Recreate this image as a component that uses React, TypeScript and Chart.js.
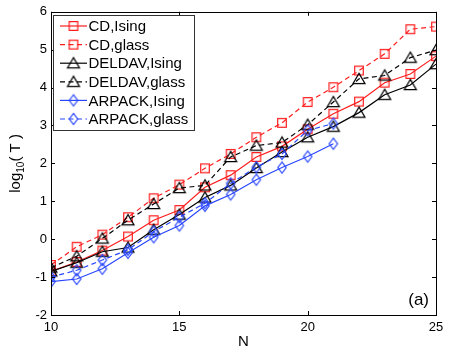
import React, { useEffect, useRef } from "react";
import { Chart, registerables } from "chart.js";

Chart.register(...registerables);

// ---------- data ----------
const N_FULL = [10, 11, 12, 13, 14, 15, 16, 17, 18, 19, 20, 21, 22, 23, 24, 25];
const N_ARPACK = [10, 11, 12, 13, 14, 15, 16, 17, 18, 19, 20, 21];

const CD_ISING = [-0.85, -0.6, -0.3, 0.07, 0.5, 0.77, 1.37, 1.69, 2.17, 2.45, 2.9, 3.31, 3.63, 4.13, 4.36, 4.83];
const CD_GLASS = [-0.68, -0.2, 0.12, 0.58, 1.08, 1.44, 1.87, 2.25, 2.69, 3.07, 3.62, 4.01, 4.45, 4.89, 5.54, 5.61];
const DELDAV_ISING = [-0.85, -0.62, -0.33, -0.22, 0.25, 0.65, 1.1, 1.42, 1.88, 2.3, 2.69, 2.97, 3.34, 3.81, 4.07, 4.62];
const DELDAV_GLASS = [-0.75, -0.45, 0.02, 0.5, 0.93, 1.35, 1.42, 2.17, 2.47, 2.55, 3.02, 3.62, 4.23, 4.32, 4.79, 4.99];
const ARPACK_ISING = [-1.12, -1.05, -0.78, -0.36, 0.05, 0.36, 0.88, 1.18, 1.57, 1.89, 2.18, 2.52];
const ARPACK_GLASS = [-1.0, -0.82, -0.55, -0.28, 0.2, 0.58, 0.95, 1.47, 1.9, 2.25, 2.87, 3.05];

const SERIES_LABELS = ["CD,Ising", "CD,glass", "DELDAV,Ising", "DELDAV,glass", "ARPACK,Ising", "ARPACK,glass"];
const X_TICKS = [10, 15, 20, 25];
const Y_TICKS = [-2, -1, 0, 1, 2, 3, 4, 5, 6];

// ---------- styles ----------
const RED = "rgb(255,30,30)";
const BLACK = "rgb(0,0,0)";
const BLUE = "rgb(40,70,255)";
const FONT = "'Liberation Sans', Arial, Helvetica, sans-serif";
const DASH = [5, 3.5];

type Kind = "square" | "triangle" | "diamond";

function makeMarker(kind: Kind, color: string): HTMLCanvasElement {
  const c = document.createElement("canvas");
  c.width = 16;
  c.height = 16;
  const g = c.getContext("2d")!;
  g.strokeStyle = color;
  g.lineWidth = 1.2;
  const cx = 8, cy = 8;
  g.beginPath();
  if (kind === "square") {
    g.rect(cx - 4.3, cy - 4.3, 8.6, 8.6);
  } else if (kind === "triangle") {
    g.moveTo(cx, cy - 5.6);
    g.lineTo(cx + 6, cy + 4.6);
    g.lineTo(cx - 6, cy + 4.6);
    g.closePath();
  } else {
    g.moveTo(cx, cy - 5.6);
    g.lineTo(cx + 4.2, cy);
    g.lineTo(cx, cy + 5.6);
    g.lineTo(cx - 4.2, cy);
    g.closePath();
  }
  g.stroke();
  return c;
}

const PLOT = { left: 51, right: 436, top: 11, bottom: 315 };

export default function App() {
  const ref = useRef<HTMLCanvasElement | null>(null);

  useEffect(() => {
    if (!ref.current) return;
    const specs = [
      { label: SERIES_LABELS[0], xs: N_FULL, ys: CD_ISING, color: RED, dash: [] as number[], kind: "square" as Kind },
      { label: SERIES_LABELS[1], xs: N_FULL, ys: CD_GLASS, color: RED, dash: DASH, kind: "square" as Kind },
      { label: SERIES_LABELS[2], xs: N_FULL, ys: DELDAV_ISING, color: BLACK, dash: [] as number[], kind: "triangle" as Kind },
      { label: SERIES_LABELS[3], xs: N_FULL, ys: DELDAV_GLASS, color: BLACK, dash: DASH, kind: "triangle" as Kind },
      { label: SERIES_LABELS[4], xs: N_ARPACK, ys: ARPACK_ISING, color: BLUE, dash: [] as number[], kind: "diamond" as Kind },
      { label: SERIES_LABELS[5], xs: N_ARPACK, ys: ARPACK_GLASS, color: BLUE, dash: DASH, kind: "diamond" as Kind },
    ];
    const markers = specs.map((s) => makeMarker(s.kind, s.color));

    const datasets = specs.map((s, i) => ({
      label: s.label,
      data: s.xs.map((x, j) => ({ x, y: s.ys[j] })),
      borderColor: s.color,
      backgroundColor: s.color,
      borderWidth: 1.2,
      borderDash: s.dash,
      pointStyle: markers[i] as any,
      pointRadius: 5,
      tension: 0,
      fill: false,
      order: specs.length - 1 - i,
    }));

    const overlay = {
      id: "matlabDecor",
      afterDatasetsDraw(chart: any) {
        const ctx = chart.ctx as CanvasRenderingContext2D;
        const xs = chart.scales.x;
        const ys = chart.scales.y;
        const L = chart.chartArea.left, R = chart.chartArea.right;
        const T = chart.chartArea.top, B = chart.chartArea.bottom;
        ctx.save();
        // box
        ctx.strokeStyle = "#000";
        ctx.lineWidth = 1;
        ctx.setLineDash([]);
        ctx.strokeRect(Math.round(L) + 0.5, Math.round(T) + 0.5, Math.round(R - L), Math.round(B - T));
        // inside ticks
        const tl = 4;
        ctx.beginPath();
        for (const v of X_TICKS) {
          const px = Math.round(xs.getPixelForValue(v)) + 0.5;
          ctx.moveTo(px, B); ctx.lineTo(px, B - tl);
          ctx.moveTo(px, T); ctx.lineTo(px, T + tl);
        }
        for (const v of Y_TICKS) {
          const py = Math.round(ys.getPixelForValue(v)) + 0.5;
          ctx.moveTo(L, py); ctx.lineTo(L + tl, py);
          ctx.moveTo(R, py); ctx.lineTo(R - tl, py);
        }
        ctx.stroke();

        // x label
        ctx.fillStyle = "#000";
        ctx.font = `15px ${FONT}`;
        ctx.textAlign = "center";
        ctx.textBaseline = "middle";
        ctx.fillText("N", (L + R) / 2, 342);

        // y label: log10( T ) rotated
        ctx.save();
        ctx.translate(15, (T + B) / 2);
        ctx.rotate(-Math.PI / 2);
        const p1 = "log", p2 = "10", p3 = "( T )";
        ctx.font = `15px ${FONT}`;
        const w1 = ctx.measureText(p1).width;
        const w3 = ctx.measureText(p3).width;
        ctx.font = `10px ${FONT}`;
        const w2 = ctx.measureText(p2).width;
        let x0 = -(w1 + w2 + w3) / 2;
        ctx.textAlign = "left";
        ctx.textBaseline = "alphabetic";
        ctx.font = `15px ${FONT}`;
        ctx.fillText(p1, x0, 5);
        x0 += w1;
        ctx.font = `10px ${FONT}`;
        ctx.fillText(p2, x0, 9);
        x0 += w2;
        ctx.font = `15px ${FONT}`;
        ctx.fillText(p3, x0, 5);
        ctx.restore();

        // (a)
        ctx.font = `17px ${FONT}`;
        ctx.textAlign = "right";
        ctx.textBaseline = "middle";
        ctx.fillText("(a)", 429, 300);

        // legend
        const lx = 53, ly = 15, lw = 141, lh = 115;
        ctx.fillStyle = "#fff";
        ctx.fillRect(lx, ly, lw, lh);
        ctx.strokeStyle = "#333";
        ctx.lineWidth = 1;
        ctx.strokeRect(lx + 0.5, ly + 0.5, lw, lh);
        ctx.font = `15px ${FONT}`;
        ctx.textAlign = "left";
        ctx.textBaseline = "middle";
        specs.forEach((s, i) => {
          const cy = 26 + i * 18.6;
          ctx.strokeStyle = s.color;
          ctx.lineWidth = 1.2;
          ctx.setLineDash(s.dash);
          ctx.beginPath();
          ctx.moveTo(60, cy);
          ctx.lineTo(87, cy);
          ctx.stroke();
          ctx.setLineDash([]);
          const m = markers[i];
          ctx.drawImage(m, 73.5 - m.width / 2, cy - m.height / 2);
          ctx.fillStyle = "#000";
          ctx.fillText(s.label, 88.5, cy + 1);
        });
        ctx.restore();
      },
    };

    const chart = new Chart(ref.current, {
      type: "line",
      data: { datasets: datasets as any },
      options: {
        animation: false,
        responsive: false,
        devicePixelRatio: 1,
        layout: { padding: { top: PLOT.top, right: 450 - PLOT.right, left: 0, bottom: 0 } },
        plugins: { legend: { display: false }, tooltip: { enabled: false } },
        scales: {
          x: {
            type: "linear",
            min: 10,
            max: 25,
            afterFit: (s: any) => { s.height = 353 - PLOT.bottom; },
            afterBuildTicks: (s: any) => { s.ticks = X_TICKS.map((v) => ({ value: v })); },
            grid: { display: false, drawTicks: false },
            border: { display: false },
            ticks: { color: "#000", font: { size: 13, family: FONT }, padding: 5, maxRotation: 0 },
          },
          y: {
            type: "linear",
            min: -2,
            max: 6,
            afterFit: (s: any) => { s.width = PLOT.left; },
            afterBuildTicks: (s: any) => { s.ticks = Y_TICKS.map((v) => ({ value: v })); },
            grid: { display: false, drawTicks: false },
            border: { display: false },
            ticks: { color: "#000", font: { size: 13, family: FONT }, padding: 4 },
          },
        },
      },
      plugins: [overlay],
    });
    return () => chart.destroy();
  }, []);

  return (
    <div style={{ position: "absolute", left: 0, top: 0, width: 450, height: 353, background: "#fff" }}>
      <canvas ref={ref} width={450} height={353} style={{ display: "block", width: 450, height: 353 }} />
    </div>
  );
}
